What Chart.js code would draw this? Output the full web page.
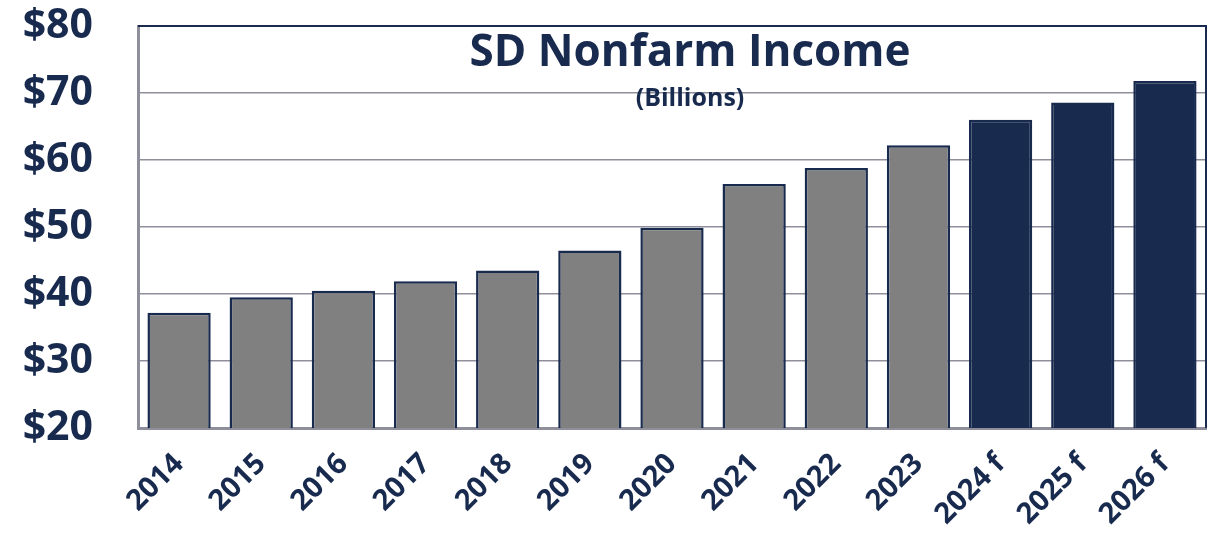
<!DOCTYPE html>
<html><head><meta charset="utf-8">
<script src="https://cdn.jsdelivr.net/npm/chart.js@4/dist/chart.umd.min.js"></script>
<style>html,body{margin:0;padding:0;background:#fff}#wrap{width:1214px;height:533px}</style>
</head><body><div id="wrap"><canvas id="c" width="1214" height="533"></canvas></div>
<script>
const categories = ["2014","2015","2016","2017","2018","2019","2020","2021","2022","2023","2024 f","2025 f","2026 f"];
const incomeValues = [37.2, 39.5, 40.5, 41.9, 43.5, 46.5, 49.9, 56.4, 58.8, 62.2, 66.0, 68.6, 71.8];
const isForecast = [false,false,false,false,false,false,false,false,false,false,true,true,true];
const yTicks = [20,30,40,50,60,70,80];
const titleText = "SD Nonfarm Income";
const subtitleText = "(Billions)";

const NAVY = "#182a4e";
const GRAY = "#808080";
const GRID = "#8f8f9c";

const overlay = {
  id: "overlay",
  afterDatasetsDraw(chart) {
    const {ctx, chartArea: a} = chart;
    ctx.save();
    ctx.strokeStyle = NAVY;
    ctx.lineWidth = 2;
    ctx.beginPath();
    ctx.moveTo(a.left, a.top); ctx.lineTo(a.right, a.top);
    ctx.lineTo(a.right, a.bottom);
    ctx.stroke();
    ctx.fillStyle = NAVY;
    ctx.textAlign = "center";
    ctx.textBaseline = "alphabetic";
    ctx.font = "bold 44px 'Open Sans'";
    const cx = 690;
    ctx.fillText(titleText, cx, 66);
    ctx.font = "bold 25px 'Open Sans'";
    ctx.fillText(subtitleText, cx, 106);
    ctx.restore();
  }
};

new Chart(document.getElementById("c"), {
  type: "bar",
  data: {
    labels: categories,
    datasets: [{
      data: incomeValues,
      backgroundColor: isForecast.map(f => f ? NAVY : GRAY),
      borderColor: NAVY,
      borderWidth: 2.5,
      categoryPercentage: 0.77,
      barPercentage: 1
    }]
  },
  options: {
    responsive: false,
    animation: false,
    layout: {padding: {top: 26, right: 8, left: 0, bottom: 0}},
    plugins: {legend: {display: false}, tooltip: {enabled: false}, title: {display: false}},
    scales: {
      x: {
        grid: {display: false, drawTicks: false},
        border: {display: true, color: GRID, width: 3},
        ticks: {
          color: NAVY, font: {family: "'Open Sans'", weight: "bold", size: 29},
          maxRotation: 45, minRotation: 45, padding: 19, autoSkip: false
        },
        afterFit(s) { s.height = 105; s.paddingLeft = 0; s.paddingRight = 0; }
      },
      y: {
        min: 20, max: 80,
        afterBuildTicks(s) { s.ticks = yTicks.map(v => ({value: v})); },
        grid: {color: ctx => (ctx.tick && (ctx.tick.value === 20 || ctx.tick.value === 80)) ? "rgba(0,0,0,0)" : GRID, lineWidth: 1.5, drawTicks: false},
        border: {display: true, color: GRID, width: 3},
        ticks: {
          color: NAVY, font: {family: "'Open Sans'", weight: "bold", size: 41},
          padding: 45, callback: v => "$" + v
        },
        afterFit(s) { s.width = 138; s.paddingTop = 0; s.paddingBottom = 0; }
      }
    }
  },
  plugins: [overlay]
});
</script>
</body></html>
